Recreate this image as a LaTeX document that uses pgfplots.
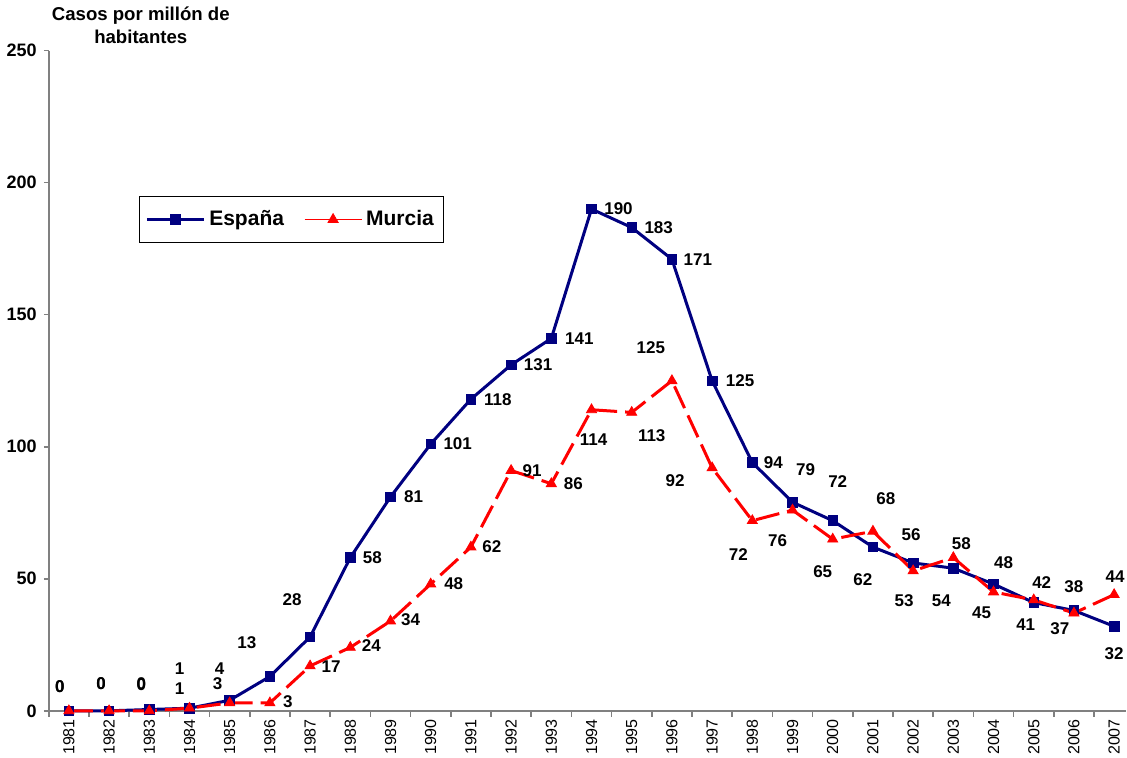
\documentclass[border=0pt]{standalone}
\usepackage{fontspec}
\setmainfont{Liberation Sans}
\usepackage{pgfplots}
\pgfplotsset{compat=1.18}

\definecolor{espana}{RGB}{0,0,128}
\definecolor{murcia}{RGB}{255,0,0}

% x = year index (0 = 1981), dx/dy = label offset in px (dy down)
\pgfplotstableread{
x y lab dx dy
0 0 0 -9 -24
1 0 0 -8 -27
2 0.5 0 -8 -26
3 1 1 -10 -40
4 4 4 -10 -32
5 13 13 -23 -34
6 28 28 -18 -37
7 58 58 22 0
8 81 81 23 0
9 101 101 27 0
10 118 118 27 0
11 131 131 27 0
12 141 141 28 0
13 190 190 27 0
14 183 183 27 0
15 171 171 26 0
16 125 125 28 0
17 94 94 21 0
18 79 79 13 -33
19 72 72 5 -39
20 62 62 -10 33
21 56 56 -2 -28
22 54 54 -12 33
23 48 48 10 -21
24 41 41 -8 22
25 38 38 0 -24
26 32 32 0 27
}\espana

\pgfplotstableread{
x y lab dx dy
0 0 0 -9 -24
1 0 0 -8 -27
2 0 0 -8 -26
3 1 1 -10 -20
4 3 3 -12 -19
5 3 3 18 -1
6 17 17 21 1
7 24 24 21 -2
8 34 34 20 -1
9 48 48 23 0
10 62 62 21 0
11 91 91 21 0
12 86 86 22 0
13 114 114 2 30
14 113 113 20 23
15 125 125 -21 -33
16 92 92 -37 13
17 72 72 -14 34
18 76 76 -15 31
19 65 65 -10 32
20 68 68 13 -33
21 53 53 -9 30
22 58 58 8 -14
23 45 45 -12 21
24 42 42 8 -17
25 37 37 -14 16
26 44 44 1 -18
}\murcia

\begin{document}
\begin{tikzpicture}
\begin{axis}[
  scale only axis,
  width=538.5pt, height=330pt,
  xmin=-0.5, xmax=26.3,
  ymin=0, ymax=250,
  clip=false,
  axis lines=left,
  axis line style={-, draw=gray, line width=0.8pt},
  tick style={gray, line width=0.8pt},
  tick align=outside,
  ytick={0,50,...,250},
  major tick length=2.5pt,
  xtick={0,...,26},
  xticklabels={1981,1982,1983,1984,1985,1986,1987,1988,1989,1990,1991,1992,1993,1994,1995,1996,1997,1998,1999,2000,2001,2002,2003,2004,2005,2006,2007},
  x tick style={draw=none},
  minor xtick={-0.5,0.5,...,25.5},
  minor x tick style={draw=gray, line width=0.8pt},
  minor tick length=3pt,
  x tick label style={rotate=90, anchor=east, font=\fontsize{8}{9}\selectfont, inner sep=1.5pt},
  y tick label style={font=\fontsize{9}{10}\selectfont\bfseries},
  /pgf/number format/assume math mode=true,
  legend columns=2,
  legend style={at={(rel axis cs:0.0836,0.78)}, anchor=north west,
    draw=black, line width=0.5pt, font=\fontsize{10.5}{12}\selectfont\bfseries,
    inner xsep=3pt, inner ysep=5pt},
  legend image code/.code={
    \draw[#1, mark repeat=2, mark phase=2] plot coordinates {(0cm,0cm) (0.5cm,0cm) (1cm,0cm)};},
  /tikz/every even column/.append style={column sep=8pt},
  every node near coord/.append style={anchor=center, inner sep=0pt,
    font=\fontsize{8.5}{10}\selectfont\bfseries, text=black,
    xshift=\dx*0.5pt, yshift=-\dy*0.5pt},
]

\addplot[color=espana, line width=1.5pt, mark=square*, mark size=2.4pt,
  mark options={solid, line width=0.4pt},
  nodes near coords, point meta=explicit symbolic,
  visualization depends on={\thisrow{dx} \as \dx},
  visualization depends on={\thisrow{dy} \as \dy}]
  table[x=x, y=y, meta=lab] {\espana};
\addlegendentry{España}

\addplot[color=murcia, line width=1.5pt, dash pattern=on 12pt off 4pt,
  mark=triangle*, mark size=2.9pt, mark options={solid, line width=0.4pt},
  nodes near coords, point meta=explicit symbolic,
  visualization depends on={\thisrow{dx} \as \dx},
  visualization depends on={\thisrow{dy} \as \dy},
  legend image post style={solid, line width=0.6pt}]
  table[x=x, y=y, meta=lab] {\murcia};
\addlegendentry{Murcia}

\node[anchor=south, align=center, font=\fontsize{9.3}{11.5}\selectfont\bfseries]
  at (rel axis cs:0.0854,1) {Casos por millón de\\habitantes};

\end{axis}
\end{tikzpicture}
\end{document}
